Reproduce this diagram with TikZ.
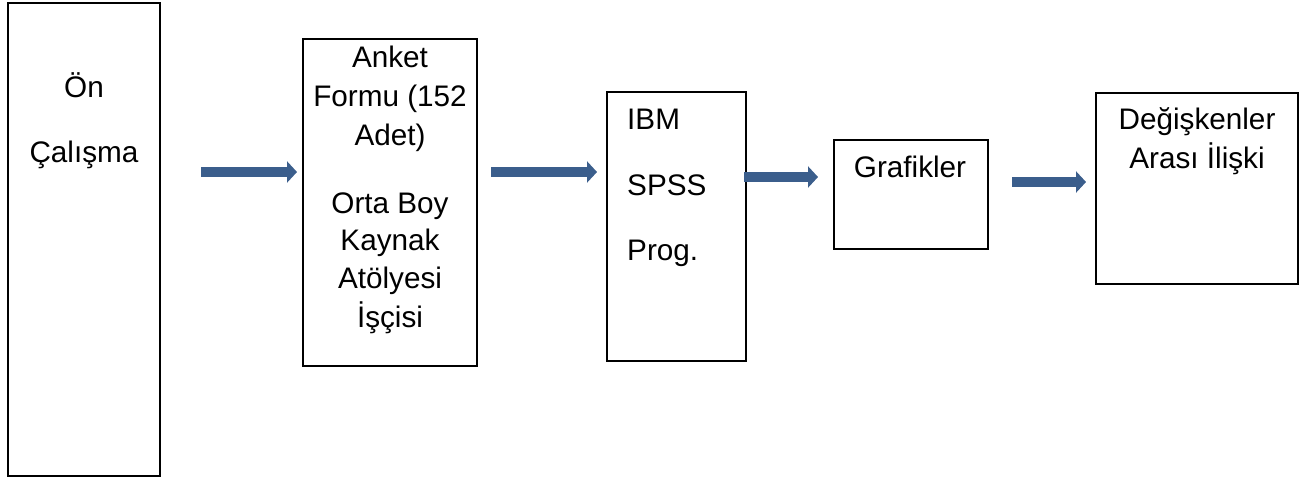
\documentclass[tikz,border=0pt]{standalone}
\usepackage{fontspec}
\setmainfont{Liberation Sans}
\usetikzlibrary{arrows.meta}
\definecolor{arrowblue}{HTML}{3B5E8C}
\begin{document}
\begin{tikzpicture}[x=1pt,y=-1pt,
  boxthick/.style={draw=black,line width=2.6pt,inner sep=0pt},
  boxthin/.style={draw=black,line width=1.3pt,inner sep=0pt},
  txt/.style={anchor=base,inner sep=0pt,font=\fontsize{29.7}{34}\selectfont},
  txtl/.style={anchor=base west,inner sep=0pt,font=\fontsize{29.7}{34}\selectfont},
  flowarrow/.style={draw=arrowblue,line width=10pt,-{Triangle[length=10pt,width=21pt]}}]
\useasboundingbox (0,0) rectangle (1308,482);
% boxes
\node[boxthick,minimum width=152pt,minimum height=473pt] (b1) at (84,239.5) {};
\node[boxthick,minimum width=174pt,minimum height=327pt] (b2) at (390,202.5) {};
\node[boxthin,minimum width=139pt,minimum height=269pt] (b3) at (676.5,226.5) {};
\node[boxthin,minimum width=154pt,minimum height=109pt] (b4) at (911,194.5) {};
\node[boxthin,minimum width=202pt,minimum height=191pt] (b5) at (1197,188.5) {};
% texts
\node[txt] (t1a) at (84,97) {Ön};
\node[txt] (t1b) at (84,162) {Çalışma};
\node[txt] (t2a) at (390,67) {Anket};
\node[txt] (t2b) at (390,106) {Formu (152};
\node[txt] (t2c) at (390,145) {Adet)};
\node[txt] (t2d) at (390,213) {Orta Boy};
\node[txt] (t2e) at (390,250) {Kaynak};
\node[txt] (t2f) at (390,288) {Atölyesi};
\node[txt] (t2g) at (390,327) {İşçisi};
\node[txtl] (t3a) at (627,129) {IBM};
\node[txtl] (t3b) at (627,195) {SPSS};
\node[txtl] (t3c) at (627,260) {Prog.};
\node[txt] (t4a) at (910,177) {Grafikler};
\node[txt] (t5a) at (1197,129) {Değişkenler};
\node[txt] (t5b) at (1197,168) {Arası İlişki};
% arrow end points
\coordinate (a1s) at (201,172); \coordinate (a1e) at (297,172);
\coordinate (a2s) at (491,172); \coordinate (a2e) at (597,172);
\coordinate (a3s) at (744,177); \coordinate (a3e) at (818,177);
\coordinate (a4s) at (1012,182); \coordinate (a4e) at (1086,182);
\draw[flowarrow] (a1s) -- (a1e);
\draw[flowarrow] (a2s) -- (a2e);
\draw[flowarrow] (a3s) -- (a3e);
\draw[flowarrow] (a4s) -- (a4e);
\end{tikzpicture}
\end{document}
